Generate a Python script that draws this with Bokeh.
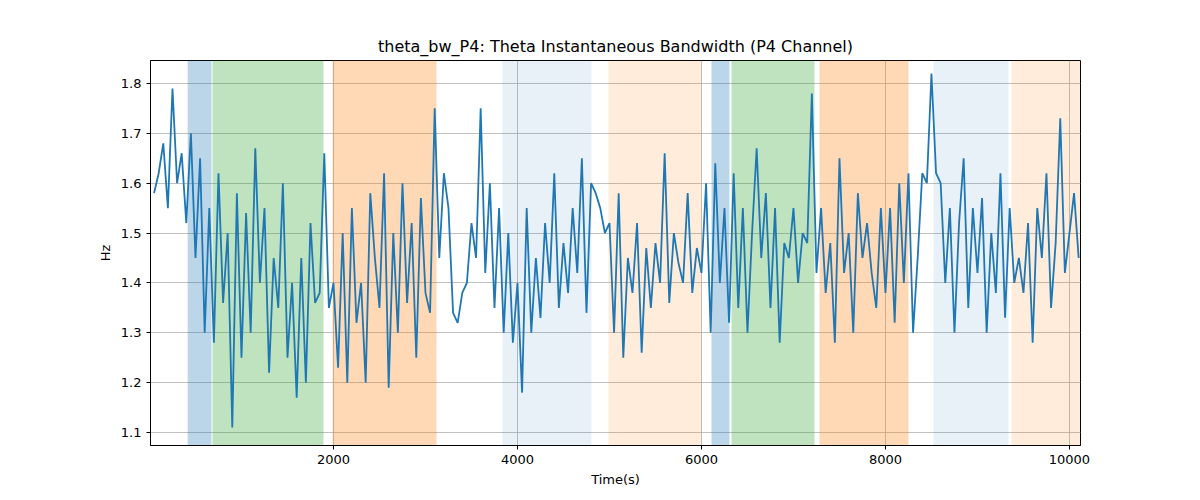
from bokeh.plotting import figure
from bokeh.models import BoxAnnotation, Range1d, FixedTicker
from bokeh.embed import file_html
from bokeh.resources import INLINE

t_start, t_step = 50, 50
values = [
1.58,1.62,1.68,1.55,1.79,1.60,1.66,1.52,1.70,1.45,
1.65,1.30,1.55,1.28,1.62,1.36,1.50,1.11,1.58,1.25,
1.54,1.30,1.67,1.40,1.55,1.22,1.45,1.35,1.60,1.25,
1.40,1.17,1.45,1.20,1.52,1.36,1.38,1.66,1.35,1.40,
1.23,1.50,1.20,1.55,1.32,1.40,1.20,1.58,1.45,1.35,
1.62,1.19,1.50,1.30,1.60,1.36,1.52,1.25,1.57,1.38,
1.34,1.75,1.45,1.62,1.55,1.34,1.32,1.38,1.40,1.52,
1.45,1.75,1.42,1.60,1.35,1.55,1.30,1.50,1.28,1.40,
1.18,1.55,1.30,1.45,1.33,1.52,1.40,1.62,1.35,1.48,
1.38,1.55,1.42,1.65,1.34,1.60,1.58,1.55,1.50,1.52,
1.30,1.58,1.25,1.45,1.38,1.52,1.26,1.47,1.35,1.48,
1.40,1.66,1.36,1.50,1.44,1.40,1.58,1.38,1.47,1.42,
1.60,1.30,1.64,1.40,1.55,1.32,1.62,1.35,1.55,1.30,
1.50,1.67,1.45,1.58,1.35,1.55,1.28,1.48,1.45,1.55,
1.40,1.50,1.48,1.78,1.42,1.55,1.38,1.48,1.28,1.65,
1.42,1.50,1.30,1.58,1.45,1.52,1.42,1.35,1.55,1.38,
1.55,1.32,1.60,1.40,1.62,1.30,1.45,1.62,1.60,1.82,
1.62,1.60,1.40,1.55,1.30,1.52,1.65,1.35,1.55,1.42,
1.57,1.30,1.50,1.38,1.62,1.33,1.55,1.40,1.45,1.38,
1.52,1.28,1.55,1.45,1.62,1.35,1.48,1.73,1.42,1.50,
1.58,1.45,
]
times = [t_start + i * t_step for i in range(len(values))]

span_starts = [415, 685, 1989, 3837, 4989, 6109, 6326, 7283, 8522, 9370]
span_ends   = [674, 1891, 3120, 4804, 6000, 6304, 7228, 8250, 9337, 10120]
span_colors = ["#1f77b4", "#2ca02c", "#ff7f0e", "#1f77b4", "#ff7f0e",
               "#1f77b4", "#2ca02c", "#ff7f0e", "#1f77b4", "#ff7f0e"]
span_alphas = [0.3, 0.3, 0.3, 0.1, 0.15, 0.3, 0.3, 0.3, 0.1, 0.15]

x_ticks = [2000, 4000, 6000, 8000, 10000]
y_ticks = [1.1, 1.2, 1.3, 1.4, 1.5, 1.6, 1.7, 1.8]

p = figure(width=1200, height=500, output_backend="svg", toolbar_location=None,
           title="theta_bw_P4: Theta Instantaneous Bandwidth (P4 Channel)",
           x_range=Range1d(11, 10120), y_range=Range1d(1.074, 1.846),
           min_border_left=150, min_border_right=120, min_border_top=60, min_border_bottom=55)
p.title.align = "center"
p.title.text_font = "DejaVu Sans"
p.title.text_font_size = "16px"
p.title.text_font_style = "normal"
p.title.text_color = "black"

for s, e, c, a in zip(span_starts, span_ends, span_colors, span_alphas):
    p.add_layout(BoxAnnotation(left=s, right=e, fill_color=c, fill_alpha=a,
                               line_alpha=0, level="underlay"))

p.line(times, values, line_color="#1f77b4", line_width=1.8)

p.xaxis.ticker = FixedTicker(ticks=x_ticks)
p.yaxis.ticker = FixedTicker(ticks=y_ticks)
p.xaxis.axis_label = "Time(s)"
p.yaxis.axis_label = "Hz"
for ax in (p.xaxis, p.yaxis):
    ax.axis_label_text_font = "DejaVu Sans"
    ax.axis_label_text_font_style = "normal"
    ax.axis_label_text_font_size = "13px"
    ax.axis_label_text_color = "black"
    ax.major_label_text_font = "DejaVu Sans"
    ax.major_label_text_font_size = "13px"
    ax.major_label_text_color = "black"
    ax.minor_tick_line_color = None
    ax.major_tick_in = 0
    ax.major_tick_out = 4
    ax.major_tick_line_color = "black"
    ax.axis_line_color = "black"
p.grid.grid_line_color = "#b0b0b0"
p.grid.grid_line_width = 0.8
p.outline_line_color = "black"
p.outline_line_alpha = 1

open("out.html", "w").write(file_html(p, INLINE))
